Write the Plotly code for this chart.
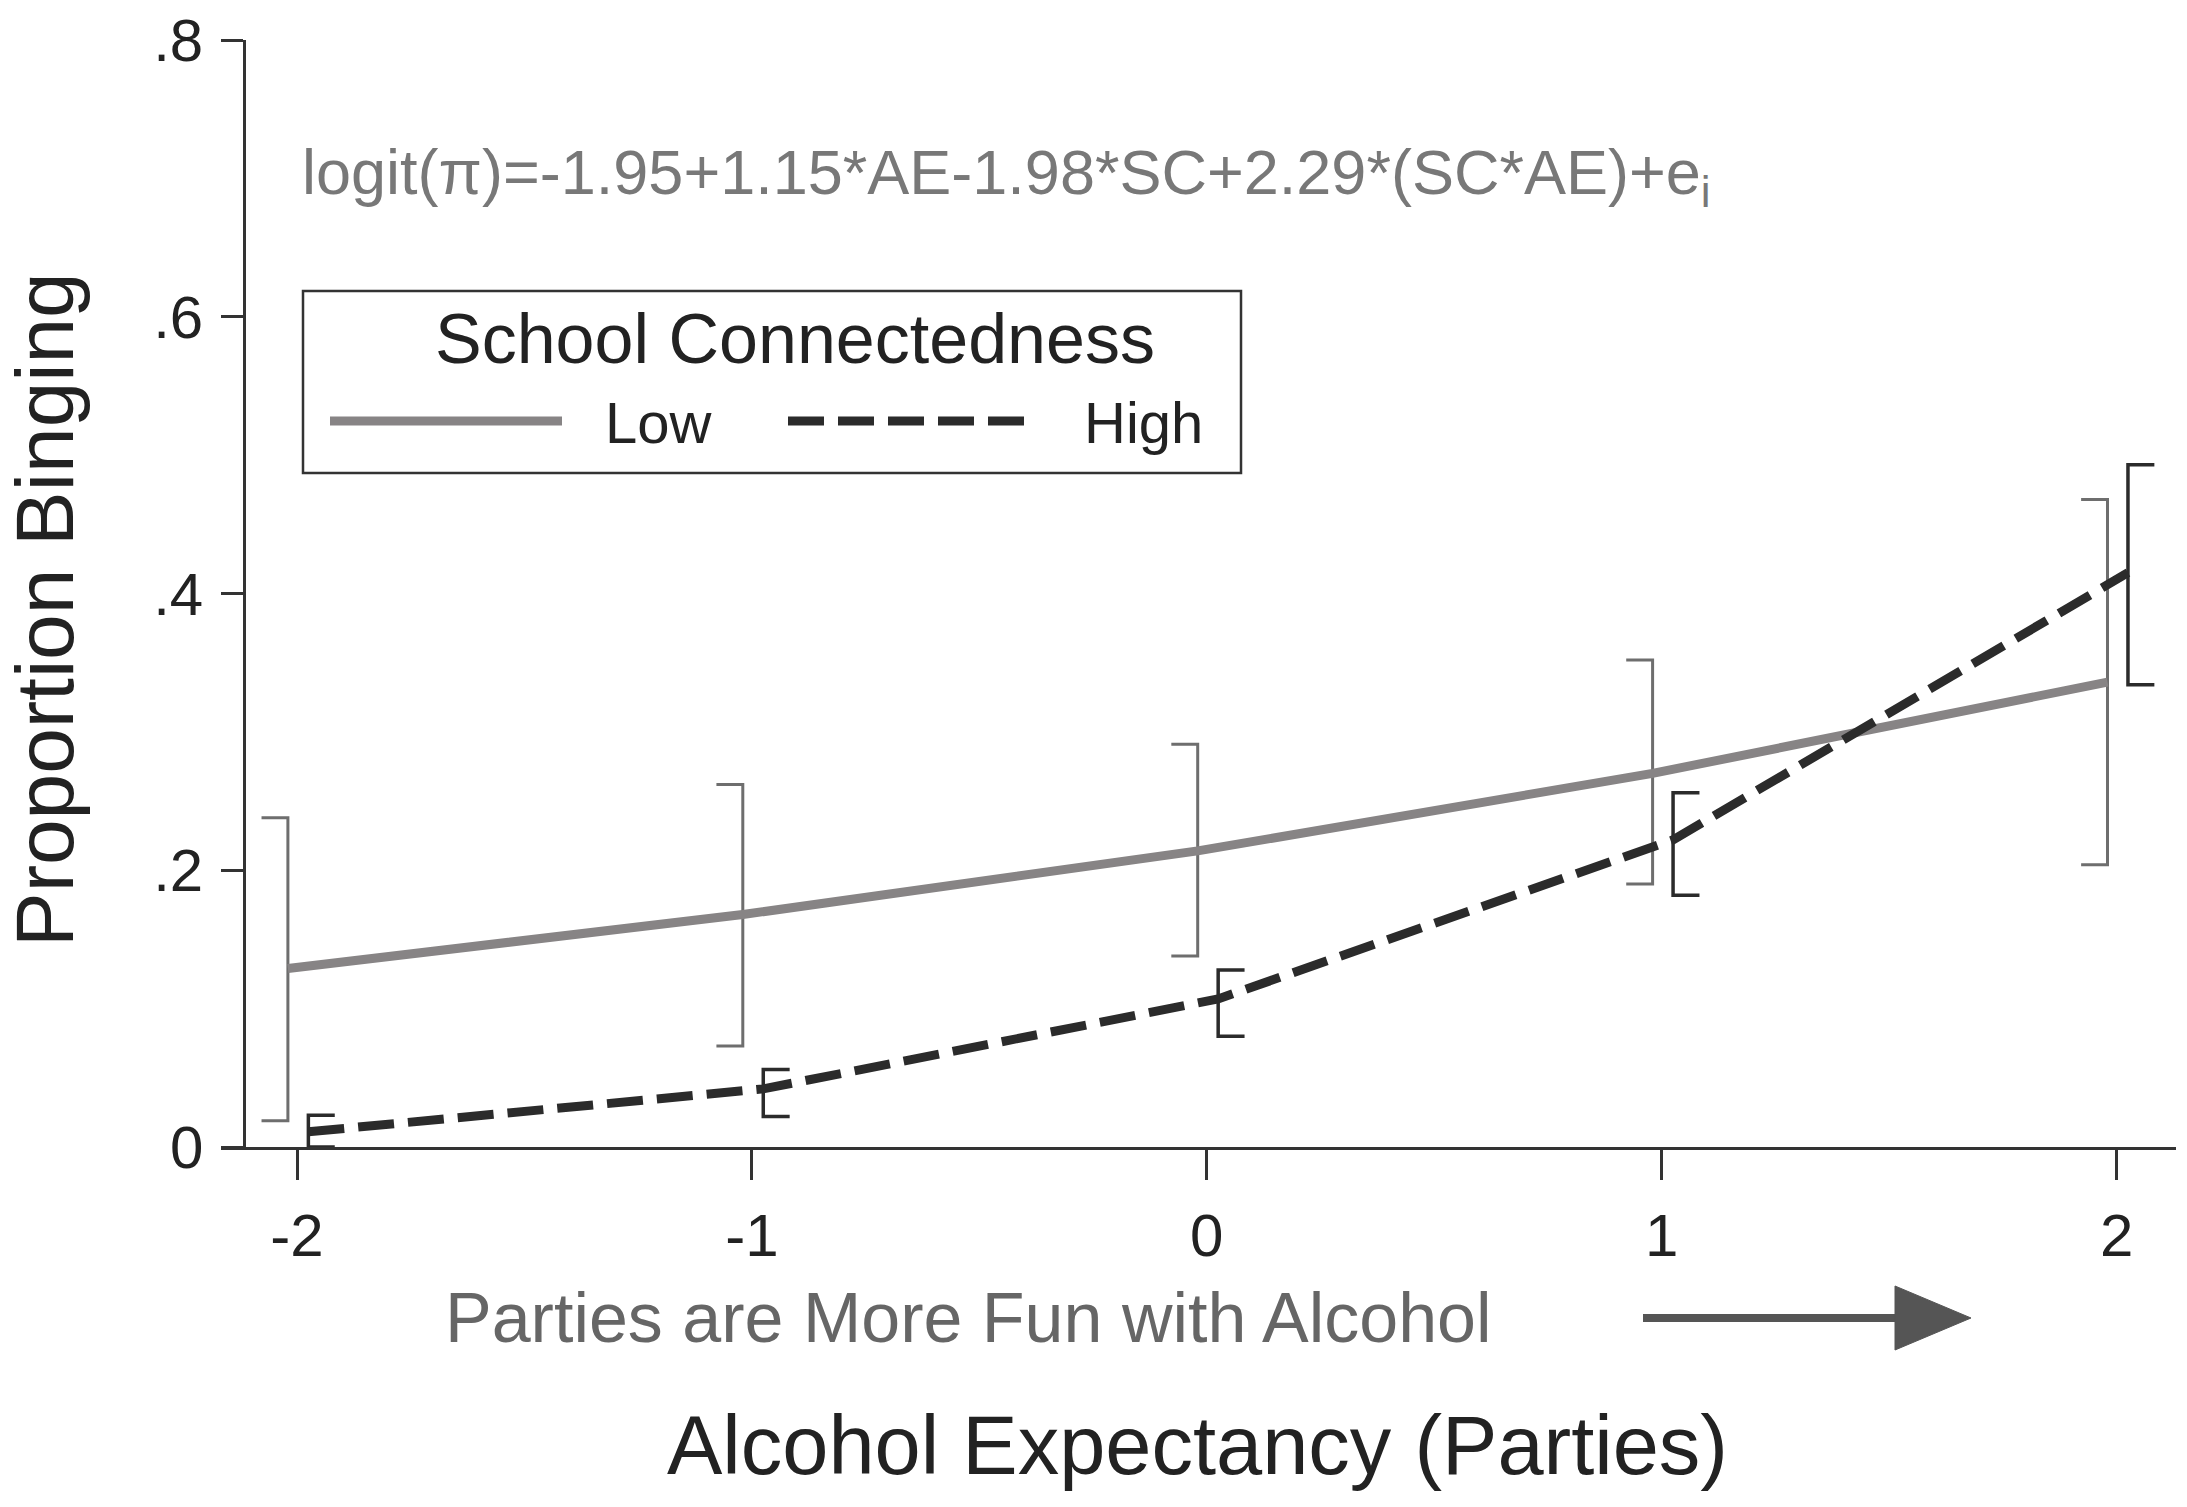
import plotly.graph_objects as go

# Alcohol expectancy (parties), centred
ae_levels = [-2, -1, 0, 1, 2]
ae_ticktext = ['-2', '-1', '0', '1', '2']

# Predicted proportion binging, low school connectedness
low_mean = [0.129, 0.168, 0.214, 0.270, 0.336]
low_lower = [0.019, 0.073, 0.138, 0.190, 0.204]
low_upper = [0.238, 0.262, 0.291, 0.352, 0.468]

# Predicted proportion binging, high school connectedness
high_mean = [0.011, 0.042, 0.107, 0.222, 0.415]
high_lower = [0.000, 0.022, 0.080, 0.182, 0.334]
high_upper = [0.023, 0.056, 0.128, 0.256, 0.493]

y_tickvals = [0, 0.2, 0.4, 0.6, 0.8]
y_ticktext = ['0', '.2', '.4', '.6', '.8']

# style
PAGE = 8                      # default body margin of the html page
W, H = 2187 - 2 * PAGE, 1507 - 2 * PAGE
PL, PR, PT, PB = 221, 2176, 40, 1147   # plot area in window pixels
FONT = 'Liberation Sans, Arial, Helvetica, sans-serif'
LOW_COL = '#878485'
LOW_BAR = '#6e6e6e'
HIGH_COL = '#2b2b2b'
DASH = '36px,14px'
LOW_OFF, HIGH_OFF = -0.02, 0.025   # dodge of the two series
CAP = 0.058


def px_x(X):
    return (X - PL) / (PR - PL)


def px_y(Y):
    return (PB - Y) / (PB - PT)


def bracket(xs, lo, hi, off, cap):
    bx, by = [], []
    for x, l, h in zip(xs, lo, hi):
        xb = x + off
        bx += [xb + cap, xb, xb, xb + cap, None]
        by += [h, h, l, l, None]
    return bx, by


low_x = [x + LOW_OFF for x in ae_levels]
high_x = [x + HIGH_OFF for x in ae_levels]

fig = go.Figure()

bx, by = bracket(ae_levels, low_lower, low_upper, LOW_OFF, -CAP)
fig.add_trace(go.Scatter(x=bx, y=by, mode='lines', line=dict(color=LOW_BAR, width=3),
                         showlegend=False, hoverinfo='skip'))
bx, by = bracket(ae_levels, high_lower, high_upper, HIGH_OFF, CAP)
fig.add_trace(go.Scatter(x=bx, y=by, mode='lines', line=dict(color=HIGH_COL, width=3.5),
                         showlegend=False, hoverinfo='skip'))

fig.add_trace(go.Scatter(x=low_x, y=low_mean, mode='lines', name='Low',
                         line=dict(color=LOW_COL, width=9)))
fig.add_trace(go.Scatter(x=high_x, y=high_mean, mode='lines', name='High',
                         line=dict(color=HIGH_COL, width=9, dash=DASH)))

x_lo = -2 - (297 - PL) / 454.9
x_hi = 2 + (PR - 2116.6) / 454.9

fig.update_layout(
    width=W, height=H,
    margin=dict(l=PL - PAGE, r=W + PAGE - PR, t=PT - PAGE, b=H + PAGE - PB,
                autoexpand=False),
    plot_bgcolor='white', paper_bgcolor='white',
    showlegend=False,
    font=dict(family=FONT, color='#222222'),
    xaxis=dict(
        range=[x_lo, x_hi], tickvals=ae_levels, ticktext=ae_ticktext,
        showgrid=False, zeroline=False,
        showline=True, linecolor='#333333', linewidth=2.5,
        ticks='outside', ticklen=30, tickwidth=2.5, tickcolor='#333333',
        tickfont=dict(size=60, color='#222222'), ticklabelstandoff=4,
        ticklabeloverflow='allow',
    ),
    yaxis=dict(
        range=[0, 0.8], tickvals=y_tickvals, ticktext=y_ticktext,
        anchor='free', position=px_x(244),
        showgrid=False, zeroline=False,
        showline=True, linecolor='#333333', linewidth=2.5,
        ticks='outside', ticklen=22, tickwidth=2.5, tickcolor='#333333',
        tickfont=dict(size=60, color='#222222'), ticklabelstandoff=6,
        ticklabeloverflow='allow',
    ),
)

ann = [
    dict(text='logit(π)=-1.95+1.15*AE-1.98*SC+2.29*(SC*AE)+e<sub>i</sub>',
         x=px_x(300), y=px_y(176), xanchor='left', yanchor='middle',
         font=dict(size=63, color='#787878')),
    dict(text='School Connectedness', x=px_x(795), y=px_y(339),
         xanchor='center', yanchor='middle', font=dict(size=70, color='#222222')),
    dict(text='Low', x=px_x(603), y=px_y(423), xanchor='left', yanchor='middle',
         font=dict(size=58, color='#222222')),
    dict(text='High', x=px_x(1082), y=px_y(423), xanchor='left', yanchor='middle',
         font=dict(size=58, color='#222222')),
    dict(text='Parties are More Fun with Alcohol', x=px_x(443), y=px_y(1318),
         xanchor='left', yanchor='middle', font=dict(size=70, color='#666666')),
    dict(text='Alcohol Expectancy (Parties)', x=px_x(1197), y=px_y(1446),
         xanchor='center', yanchor='middle', font=dict(size=83, color='#222222')),
    dict(text='Proportion Binging', x=px_x(44), y=px_y(610), textangle=-90,
         xanchor='center', yanchor='middle', font=dict(size=82, color='#222222')),
]
for a in ann:
    a.update(xref='paper', yref='paper', showarrow=False)
    fig.add_annotation(**a)

shapes = [
    dict(type='rect', x0=px_x(303), x1=px_x(1241), y0=px_y(473), y1=px_y(291),
         line=dict(color='#333333', width=2.5)),
    dict(type='line', x0=px_x(330), x1=px_x(562), y0=px_y(421), y1=px_y(421),
         line=dict(color=LOW_COL, width=9)),
    dict(type='line', x0=px_x(788), x1=px_x(1029), y0=px_y(421), y1=px_y(421),
         line=dict(color=HIGH_COL, width=9, dash=DASH)),
    dict(type='line', x0=px_x(1643), x1=px_x(1900), y0=px_y(1318), y1=px_y(1318),
         line=dict(color='#555555', width=8)),
    dict(type='path',
         path='M {:.5f},{:.5f} L {:.5f},{:.5f} L {:.5f},{:.5f} Z'.format(
             px_x(1895), px_y(1286), px_x(1971), px_y(1318), px_x(1895), px_y(1350)),
         fillcolor='#555555', line=dict(color='#555555', width=1)),
]
for s in shapes:
    s.update(xref='paper', yref='paper', layer='above')
    fig.add_shape(**s)

fig.write_html('out.html')
